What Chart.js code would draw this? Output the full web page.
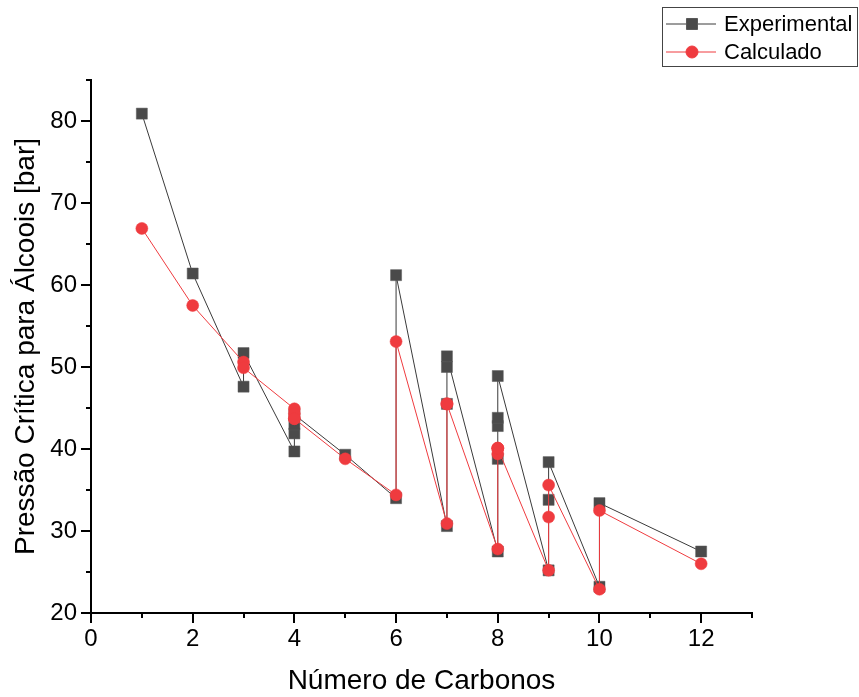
<!DOCTYPE html>
<html>
<head>
<meta charset="utf-8">
<script src="https://cdn.jsdelivr.net/npm/chart.js@4.4.0/dist/chart.umd.min.js"></script>
<style>
  html, body { margin: 0; padding: 0; background: #fff; }
  #wrap { width: 859px; height: 697px; }
</style>
</head>
<body>
<div id="wrap"><canvas id="pcChart" width="859" height="697"></canvas></div>
<script>
// número de carbonos de cada álcool (mesma ordem nas duas séries)
const carbonos = [1, 2, 3, 3, 4, 4, 4, 4, 5, 6, 6, 7, 7, 7, 7, 8, 8, 8, 8, 8, 9, 9, 9, 10, 10, 12];
// pressão crítica experimental [bar]
const experimental = [80.9, 61.4, 47.6, 51.7, 39.7, 41.9, 43.0, 44.2, 39.3, 34.0, 61.2,
  30.6, 45.5, 50.0, 51.3, 27.5, 38.8, 42.8, 43.8, 48.9, 25.2, 33.8, 38.4, 23.2, 33.4, 27.5];
// pressão crítica calculada [bar]
const calculado = [66.9, 57.5, 50.6, 49.9, 44.9, 44.3, 43.7, 43.7, 38.8, 34.4, 53.1,
  30.9, 45.5, 45.5, 45.5, 27.8, 39.4, 40.1, 40.1, 40.1, 25.2, 31.7, 35.6, 22.9, 32.5, 26.0];

const xTicks = [0, 2, 4, 6, 8, 10, 12];
const xMinor = [1, 3, 5, 7, 9, 11, 13];
const yTicks = [20, 30, 40, 50, 60, 70, 80];
const yMinor = [25, 35, 45, 55, 65, 75, 85];

const FONT = "'Liberation Sans', Arial, sans-serif";
Chart.defaults.font.family = FONT;
Chart.defaults.color = '#000';

const toPoints = ys => ys.map((y, i) => ({ x: carbonos[i], y }));

// ticks menores (sem rótulo) nos dois eixos
const minorTicks = {
  id: 'minorTicks',
  afterDraw(chart) {
    const { ctx, chartArea, scales } = chart;
    ctx.save();
    ctx.strokeStyle = '#000';
    ctx.lineWidth = 2;
    ctx.beginPath();
    xMinor.forEach(v => {
      const px = Math.round(scales.x.getPixelForValue(v));
      ctx.moveTo(px, chartArea.bottom);
      ctx.lineTo(px, chartArea.bottom + 5);
    });
    yMinor.forEach(v => {
      const py = Math.round(scales.y.getPixelForValue(v));
      ctx.moveTo(chartArea.left, py);
      ctx.lineTo(chartArea.left - 5, py);
    });
    ctx.stroke();
    ctx.restore();
  }
};

// legenda com linha + símbolo, no canto superior direito
const legendBox = {
  id: 'legendBox',
  afterDraw(chart) {
    const ctx = chart.ctx;
    ctx.save();
    ctx.strokeStyle = '#444';
    ctx.lineWidth = 1;
    ctx.strokeRect(662.5, 7.5, 195, 59);
    chart.data.datasets.forEach((ds, i) => {
      const y = 24 + i * 28;
      ctx.strokeStyle = ds.borderColor;
      ctx.lineWidth = ds.borderWidth;
      ctx.beginPath();
      ctx.moveTo(666, y);
      ctx.lineTo(716, y);
      ctx.stroke();
      ctx.fillStyle = ds.pointBackgroundColor;
      ctx.strokeStyle = ds.pointBorderColor;
      Chart.helpers.drawPoint(ctx, {
        pointStyle: ds.pointStyle,
        radius: ds.pointRadius,
        borderWidth: ds.pointBorderWidth
      }, 692, y);
      ctx.fillStyle = '#000';
      ctx.font = '22px ' + FONT;
      ctx.textBaseline = 'middle';
      ctx.textAlign = 'left';
      ctx.fillText(ds.label, 724, y + 1);
    });
    ctx.restore();
  }
};

new Chart(document.getElementById('pcChart'), {
  type: 'scatter',
  data: {
    datasets: [
      {
        label: 'Experimental',
        data: toPoints(experimental),
        showLine: true,
        borderColor: '#3a3a3a',
        borderWidth: 1,
        pointStyle: 'rect',
        pointRadius: 7.8,
        pointBackgroundColor: '#4a4a4a',
        pointBorderColor: '#5a5a5a',
        pointBorderWidth: 0.5,
        order: 2
      },
      {
        label: 'Calculado',
        data: toPoints(calculado),
        showLine: true,
        borderColor: '#ef3b3f',
        borderWidth: 1,
        pointStyle: 'circle',
        pointRadius: 6,
        pointBackgroundColor: '#ef3b3f',
        pointBorderColor: '#ef3b3f',
        pointBorderWidth: 0.5,
        order: 1
      }
    ]
  },
  options: {
    responsive: false,
    animation: false,
    devicePixelRatio: 1,
    layout: { padding: { left: 0, top: 80, right: 107, bottom: 0 } },
    plugins: {
      legend: { display: false },
      tooltip: { enabled: false }
    },
    scales: {
      x: {
        type: 'linear',
        min: 0,
        max: 13,
        afterFit: s => { s.height = 84; },
        afterBuildTicks: s => { s.ticks = xTicks.map(v => ({ value: v })); },
        grid: { drawOnChartArea: false, drawTicks: true, tickLength: 10, color: '#000', lineWidth: 2 },
        border: { display: true, color: '#000', width: 2 },
        ticks: { font: { size: 24 }, padding: 2, color: '#000', maxRotation: 0 },
        title: {
          display: true,
          text: 'Número de Carbonos',
          font: { size: 28, lineHeight: 1 },
          padding: { top: 0, bottom: 2 },
          color: '#000'
        }
      },
      y: {
        type: 'linear',
        min: 20,
        max: 85,
        afterFit: s => { s.width = 91; },
        afterBuildTicks: s => { s.ticks = yTicks.map(v => ({ value: v })); },
        grid: { drawOnChartArea: false, drawTicks: true, tickLength: 10, color: '#000', lineWidth: 2 },
        border: { display: true, color: '#000', width: 2 },
        ticks: { font: { size: 24 }, padding: 4, color: '#000' },
        title: {
          display: true,
          text: 'Pressão Crítica para Álcoois [bar]',
          font: { size: 28, lineHeight: 1 },
          padding: { top: 12, bottom: 0 },
          color: '#000'
        }
      }
    }
  },
  plugins: [minorTicks, legendBox]
});
</script>
</body>
</html>
